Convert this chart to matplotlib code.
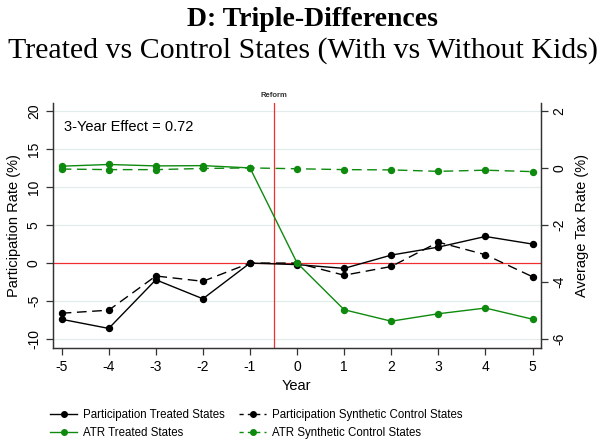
import matplotlib.pyplot as plt
from matplotlib.lines import Line2D

# -----------------------------
# DATA
# -----------------------------
years = [-5, -4, -3, -2, -1, 0, 1, 2, 3, 4, 5]

part_treated = [-7.4, -8.6, -2.2, -4.7, 0.0, -0.2, -0.7, 1.05, 2.1, 3.5, 2.5]
part_synth = [-6.6, -6.2, -1.7, -2.4, 0.0, 0.0, -1.6, -0.45, 2.75, 1.1, -1.8]

atr_treated = [0.06, 0.12, 0.07, 0.08, 0.0, -3.33, -4.97, -5.37, -5.11, -4.91, -5.3]
atr_synth = [-0.04, -0.06, -0.06, -0.02, 0.0, -0.03, -0.06, -0.07, -0.12, -0.08, -0.13]

left_ticks = [-10, -5, 0, 5, 10, 15, 20]
right_ticks = [-6, -4, -2, 0, 2]

effect_text = "3-Year Effect = 0.72"

green = "#0e8a0e"
red = "#f03030"

plt.rcParams["font.family"] = ["Liberation Sans", "DejaVu Sans"]
plt.rcParams["axes.unicode_minus"] = False

fig = plt.figure(figsize=(6.1, 4.42), dpi=100)
ax = fig.add_axes([0.0864, 0.2133, 0.7997, 0.5534])
ax2 = ax.twinx()

# gridlines at left ticks (skip zero, red line there)
for t in left_ticks:
    if t != 0:
        ax.axhline(t, color="#e3ecec", lw=0.9, zorder=0)

ax.axhline(0, color=red, lw=0.9, zorder=1)
ax.axvline(-0.5, color=red, lw=0.9, zorder=1)

ax.plot(years, part_treated, color="black", lw=1.0, marker="o", markersize=4.3, zorder=3)
ax.plot(years, part_synth, color="black", lw=1.0, dashes=(7, 4), marker="o", markersize=4.3, zorder=3)

ax2.plot(years, atr_treated, color=green, lw=1.0, marker="o", markersize=4.3)
ax2.plot(years, atr_synth, color=green, lw=1.0, dashes=(7, 4), marker="o", markersize=4.3)

ax.set_xlim(-5.19, 5.17)
ax.set_ylim(-11.14, 21.05)
ax2.set_ylim(-6.3, 2.27)

ax.set_xticks(years)
ax.set_yticks(left_ticks)
ax2.set_yticks(right_ticks)

for a in (ax, ax2):
    a.spines["top"].set_visible(False)
    for s in a.spines.values():
        s.set_linewidth(0.9)
        s.set_color("#333333")
    a.tick_params(direction="out", length=5, width=0.9, labelsize=10, colors="#333333", labelcolor="black")

ax.tick_params(axis="y", labelrotation=90)
ax2.tick_params(axis="y", labelrotation=90)
for lab in ax.get_yticklabels() + ax2.get_yticklabels():
    lab.set_va("center")

ax.set_xlabel("Year", fontsize=10.5, labelpad=4)
ax.set_ylabel("Participation Rate (%)", fontsize=10.5, labelpad=4)
ax2.set_ylabel("Average Tax Rate (%)", fontsize=10.5, rotation=90, labelpad=6)

ax.text(-4.95, 17.9, effect_text, fontsize=10.5, va="center", ha="left")
ax.text(-0.5, 21.6, "Reform", fontsize=5.5, fontweight="bold", color="#333333", ha="center", va="bottom")

# titles
fig.text(0.512, 0.955, "D: Triple-Differences", fontsize=20, fontweight="bold",
         family="Liberation Serif", ha="center", va="center")
fig.text(0.497, 0.885, "Treated vs Control States (With vs Without Kids)", fontsize=21.5,
         family="Liberation Serif", ha="center", va="center")

# legend
handles = [
    Line2D([], [], color="black", lw=1.0, marker="o", markersize=4),
    Line2D([], [], color=green, lw=1.0, marker="o", markersize=4),
    Line2D([], [], color="black", lw=1.0, dashes=(3, 3), marker="o", markersize=4),
    Line2D([], [], color=green, lw=1.0, dashes=(3, 3), marker="o", markersize=4),
]
labels = [
    "Participation Treated States",
    "ATR Treated States",
    "Participation Synthetic Control States",
    "ATR Synthetic Control States",
]
fig.legend(handles, labels, ncol=2, loc="center", bbox_to_anchor=(0.42, 0.04),
           frameon=False, fontsize=8.3, handlelength=2.4, columnspacing=1.2,
           handletextpad=0.5, labelspacing=0.55)

plt.savefig("out.png", dpi=100)
